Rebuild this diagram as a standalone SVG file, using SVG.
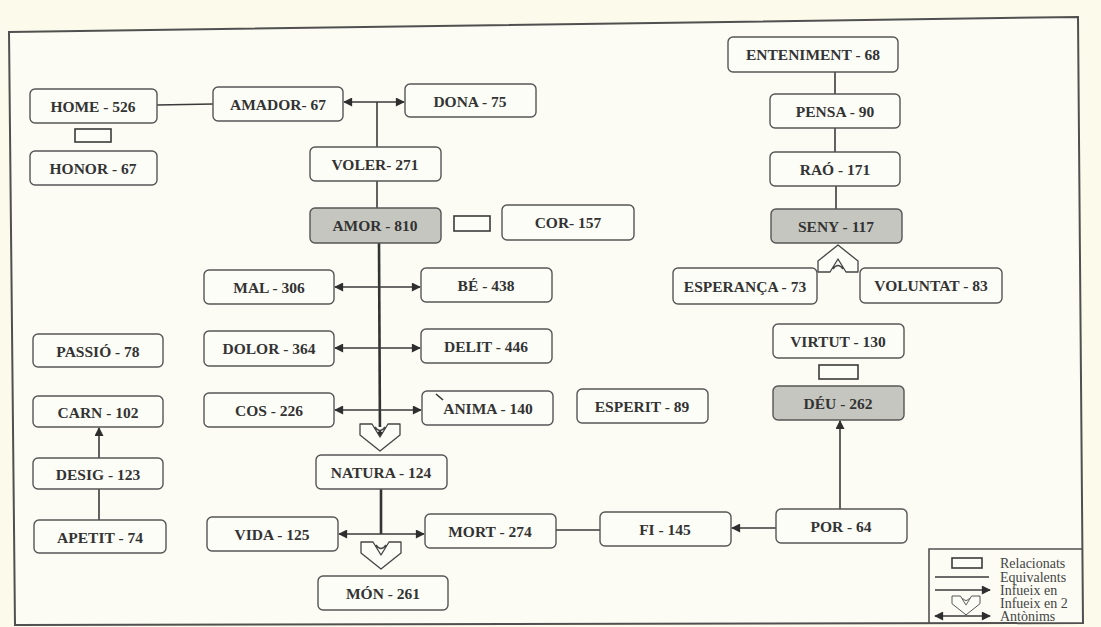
<svg xmlns="http://www.w3.org/2000/svg" width="1101" height="627" viewBox="0 0 1101 627">
  <defs>
    <marker id="ah" viewBox="0 0 10 10" refX="9" refY="5" markerWidth="10" markerHeight="9" markerUnits="userSpaceOnUse" orient="auto-start-reverse">
      <path d="M0,0 L10,5 L0,10 Z" fill="#2e2e2e"/>
    </marker>
    <!-- notched chevron: "influences in 2" -->
    <path id="chev" d="M-20,0 L-8,0 Q0,13 0,13 Q0,13 8,0 L20,0 L20,11 L0,27 L-20,11 Z M-5,3 Q0,10 5,3"/>
    <style>
      .box { fill: #fdfdf8; stroke: #555; stroke-width: 1.4; }
      .key { fill: #c6c6c0; stroke: #555; stroke-width: 1.4; }
      .rel { fill: #fdfdf8; stroke: #3a3a3a; stroke-width: 1.6; }
      .lbl { font-family: "Liberation Serif", "Times New Roman", serif; font-weight: bold; font-size: 15.5px; fill: #333; text-anchor: middle; dominant-baseline: central; }
      .ln { stroke: #3a3a3a; stroke-width: 1.6; fill: none; }
      .thick { stroke: #333; stroke-width: 2.6; fill: none; }
      .arr { marker-end: url(#ah); }
      .ant { marker-start: url(#ah); marker-end: url(#ah); }
      .chev { fill: #fdfdf8; stroke: #444; stroke-width: 1.3; stroke-linejoin: round; }
      .leg { font-family: "Liberation Serif", "Times New Roman", serif; font-size: 14px; fill: #444; dominant-baseline: central; }
    </style>
  </defs>

  <!-- paper -->
  <rect x="0" y="0" width="1101" height="627" fill="#fcfaea"/>
  <polygon points="9,32 1078,17 1083,623 15,625" fill="#fcfcf5" stroke="#505050" stroke-width="2"/>

  <!-- connectors -->
  <g id="connectors">
    <line class="ln" x1="157" y1="105" x2="213" y2="104"/>
    <line class="ln ant" x1="344" y1="102" x2="404" y2="102"/>
    <line class="ln" x1="377" y1="102" x2="377" y2="147"/>
    <line class="ln" x1="377" y1="181" x2="377" y2="208"/>
    <line class="thick arr" x1="379" y1="243" x2="380" y2="440"/>
    <line class="ln ant" x1="335" y1="287" x2="420" y2="287"/>
    <line class="ln ant" x1="335" y1="348" x2="420" y2="348"/>
    <line class="ln ant" x1="335" y1="410" x2="421" y2="410"/>
    <use href="#chev" class="chev" transform="translate(380,424)"/>
    <line class="thick" x1="381" y1="489" x2="381" y2="534"/>
    <line class="ln ant" x1="339" y1="534" x2="424" y2="534"/>
    <use href="#chev" class="chev" transform="translate(381,542)"/>
    <line class="ln arr" x1="99" y1="458" x2="99" y2="428"/>
    <line class="ln" x1="99" y1="489" x2="99" y2="520"/>
    <line class="ln" x1="556" y1="530" x2="600" y2="530"/>
    <line class="ln arr" x1="776" y1="528" x2="732" y2="528"/>
    <line class="ln arr" x1="840" y1="509" x2="840" y2="421"/>
    <line class="ln" x1="835" y1="72" x2="835" y2="94"/>
    <line class="ln" x1="835" y1="128" x2="835" y2="152"/>
    <line class="ln" x1="836" y1="186" x2="836" y2="209"/>
    <use href="#chev" class="chev" transform="translate(838,272) rotate(180)"/>
  </g>

  <!-- nodes -->
  <g id="home"><rect class="box" x="30" y="89" width="127" height="34" rx="5"/><text class="lbl" x="93" y="106">HOME - 526</text></g>
  <g id="rel-home-honor"><rect class="rel" x="75" y="129" width="36" height="13"/></g>
  <g id="honor"><rect class="box" x="30" y="151" width="127" height="34" rx="5"/><text class="lbl" x="93" y="168">HONOR - 67</text></g>
  <g id="amador"><rect class="box" x="213" y="87" width="130" height="34" rx="5"/><text class="lbl" x="278" y="104">AMADOR- 67</text></g>
  <g id="dona"><rect class="box" x="405" y="84" width="131" height="33" rx="5"/><text class="lbl" x="470" y="101">DONA - 75</text></g>
  <g id="voler"><rect class="box" x="310" y="147" width="131" height="34" rx="5"/><text class="lbl" x="375" y="164">VOLER- 271</text></g>
  <g id="amor"><rect class="key" x="310" y="208" width="131" height="35" rx="5"/><text class="lbl" x="375" y="225">AMOR - 810</text></g>
  <g id="rel-amor-cor"><rect class="rel" x="454" y="216" width="36" height="15"/></g>
  <g id="cor"><rect class="box" x="502" y="205" width="132" height="35" rx="5"/><text class="lbl" x="568" y="222">COR- 157</text></g>
  <g id="mal"><rect class="box" x="204" y="270" width="130" height="34" rx="5"/><text class="lbl" x="269" y="287">MAL - 306</text></g>
  <g id="be"><rect class="box" x="421" y="268" width="131" height="34" rx="5"/><text class="lbl" x="486" y="285">BÉ - 438</text></g>
  <g id="dolor"><rect class="box" x="204" y="331" width="130" height="35" rx="5"/><text class="lbl" x="269" y="348">DOLOR - 364</text></g>
  <g id="delit"><rect class="box" x="421" y="329" width="131" height="34" rx="5"/><text class="lbl" x="486" y="346">DELIT - 446</text></g>
  <g id="cos"><rect class="box" x="204" y="393" width="130" height="34" rx="5"/><text class="lbl" x="269" y="410">COS - 226</text></g>
  <g id="anima"><rect class="box" x="422" y="391" width="131" height="34" rx="5"/><line x1="436" y1="394" x2="443" y2="400" stroke="#333" stroke-width="1.6"/><text class="lbl" x="488" y="408">ANIMA - 140</text></g>
  <g id="esperit"><rect class="box" x="577" y="389" width="131" height="34" rx="5"/><text class="lbl" x="642" y="406">ESPERIT - 89</text></g>
  <g id="natura"><rect class="box" x="316" y="455" width="131" height="34" rx="5"/><text class="lbl" x="381" y="472">NATURA - 124</text></g>
  <g id="vida"><rect class="box" x="207" y="517" width="131" height="34" rx="5"/><text class="lbl" x="272" y="534">VIDA - 125</text></g>
  <g id="mort"><rect class="box" x="425" y="514" width="131" height="34" rx="5"/><text class="lbl" x="490" y="531">MORT - 274</text></g>
  <g id="fi"><rect class="box" x="600" y="512" width="131" height="34" rx="5"/><text class="lbl" x="665" y="529">FI - 145</text></g>
  <g id="por"><rect class="box" x="776" y="509" width="131" height="34" rx="5"/><text class="lbl" x="841" y="526">POR - 64</text></g>
  <g id="mon"><rect class="box" x="318" y="576" width="130" height="34" rx="5"/><text class="lbl" x="383" y="593">MÓN - 261</text></g>
  <g id="passio"><rect class="box" x="33" y="334" width="130" height="33" rx="5"/><text class="lbl" x="98" y="351">PASSIÓ - 78</text></g>
  <g id="carn"><rect class="box" x="33" y="396" width="130" height="31" rx="5"/><text class="lbl" x="98" y="412">CARN - 102</text></g>
  <g id="desig"><rect class="box" x="33" y="458" width="130" height="31" rx="5"/><text class="lbl" x="98" y="474">DESIG - 123</text></g>
  <g id="apetit"><rect class="box" x="34" y="520" width="132" height="33" rx="5"/><text class="lbl" x="100" y="537">APETIT - 74</text></g>
  <g id="enteniment"><rect class="box" x="728" y="37" width="170" height="35" rx="5"/><text class="lbl" x="813" y="54">ENTENIMENT - 68</text></g>
  <g id="pensa"><rect class="box" x="770" y="94" width="130" height="34" rx="5"/><text class="lbl" x="835" y="111">PENSA - 90</text></g>
  <g id="rao"><rect class="box" x="770" y="152" width="130" height="34" rx="5"/><text class="lbl" x="835" y="169">RAÓ - 171</text></g>
  <g id="seny"><rect class="key" x="771" y="209" width="131" height="34" rx="5"/><text class="lbl" x="836" y="226">SENY - 117</text></g>
  <g id="esperanca"><rect class="box" x="673" y="268" width="144" height="36" rx="5"/><text class="lbl" x="745" y="286">ESPERANÇA - 73</text></g>
  <g id="voluntat"><rect class="box" x="860" y="268" width="142" height="35" rx="5"/><text class="lbl" x="931" y="285">VOLUNTAT - 83</text></g>
  <g id="virtut"><rect class="box" x="773" y="324" width="131" height="34" rx="5"/><text class="lbl" x="838" y="341">VIRTUT - 130</text></g>
  <g id="rel-virtut-deu"><rect class="rel" x="819" y="365" width="39" height="14"/></g>
  <g id="deu"><rect class="key" x="773" y="386" width="131" height="34" rx="5"/><text class="lbl" x="838" y="403">DÉU - 262</text></g>

  <!-- legend -->
  <g id="legend">
    <polyline points="929,623 929,549 1082,549" fill="none" stroke="#505050" stroke-width="1.6"/>
    <rect class="rel" x="952" y="558" width="30" height="10"/>
    <text class="leg" x="1000" y="563">Relacionats</text>
    <line class="ln" x1="935" y1="577" x2="989" y2="577"/>
    <text class="leg" x="1000" y="577">Equivalents</text>
    <line class="ln arr" x1="935" y1="590" x2="990" y2="590"/>
    <text class="leg" x="1000" y="590">Infueix en</text>
    <use href="#chev" class="chev" transform="translate(966,596) scale(0.7)"/>
    <text class="leg" x="1000" y="603">Infueix en 2</text>
    <line class="ln ant" x1="935" y1="616" x2="990" y2="616"/>
    <text class="leg" x="1000" y="616">Antònims</text>
  </g>
</svg>
